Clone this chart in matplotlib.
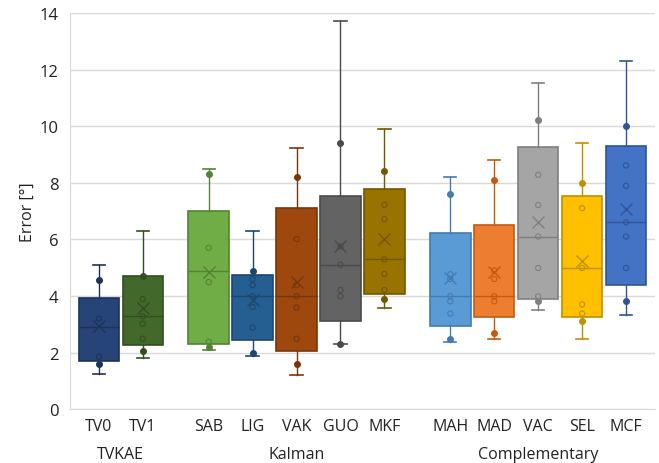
import matplotlib.pyplot as plt
import matplotlib.transforms as mtransforms

plt.rcParams['font.family'] = ['Open Sans', 'DejaVu Sans']

names = ['TV0', 'TV1', 'SAB', 'LIG', 'VAK', 'GUO', 'MKF', 'MAH', 'MAD', 'VAC', 'SEL', 'MCF']
groups = ['TVKAE', 'Kalman', 'Complementary']
group_members = [['TV0', 'TV1'], ['SAB', 'LIG', 'VAK', 'GUO', 'MKF'],
                 ['MAH', 'MAD', 'VAC', 'SEL', 'MCF']]

# box statistics
whis_lo = [1.24, 1.81, 2.10, 1.87, 1.20, 2.31, 3.59, 2.38, 2.49, 3.49, 2.49, 3.31]
q1 = [1.70, 2.26, 2.30, 2.44, 2.06, 3.12, 4.07, 2.95, 3.24, 3.89, 3.24, 4.38]
med = [2.92, 3.28, 4.88, 3.99, 3.99, 5.10, 5.29, 3.99, 3.99, 6.10, 4.99, 6.60]
q3 = [3.92, 4.70, 7.00, 4.74, 7.10, 7.54, 7.79, 6.21, 6.49, 9.25, 7.54, 9.29]
whis_hi = [5.10, 6.31, 8.50, 6.28, 9.23, 13.70, 9.91, 8.21, 8.79, 11.51, 9.40, 12.30]
means = [2.94, 3.59, 4.85, 3.87, 4.50, 5.75, 6.01, 4.62, 4.83, 6.60, 5.24, 7.07]

# individual points (hollow) and the highlighted min/max points (filled)
inner_pts = [
    [3.20, 1.85],
    [3.89, 3.28, 3.02, 2.49],
    [5.70, 4.49, 2.38],
    [4.60, 4.38, 3.99, 3.61, 2.88],
    [6.01, 4.38, 3.99, 3.59, 2.49],
    [5.75, 5.10, 4.21, 3.99],
    [7.22, 6.72, 5.29, 4.78, 4.21],
    [4.77, 4.60, 3.99, 3.81, 3.38],
    [4.90, 4.60, 3.99, 3.81],
    [8.28, 7.21, 6.10, 4.99, 3.99],
    [7.10, 4.99, 3.70, 3.38],
    [8.61, 7.89, 6.60, 6.10, 4.99],
]
filled_pts = [
    [4.56, 1.59], [4.71, 2.05], [8.30, 2.19], [4.88, 1.98], [8.22, 1.59], [9.40, 2.31],
    [8.40, 3.89], [7.61, 2.47], [8.11, 2.70], [10.23, 3.81], [8.00, 3.10], [10.01, 3.81],
]

colors = ['#264478', '#43682B', '#70AD47', '#255E91', '#9E480E', '#636363',
          '#997300', '#5B9BD5', '#ED7D31', '#A5A5A5', '#FFC000', '#4472C4']
edges = ['#1C3359', '#324E20', '#548235', '#1C476D', '#76360A', '#4A4A4A',
         '#735600', '#447BB0', '#C55A11', '#7F7F7F', '#BF9000', '#2F5597']

positions = [0, 1, 2.5, 3.5, 4.5, 5.5, 6.5, 8, 9, 10, 11, 12]
txt = '#222222'

fig = plt.figure(figsize=(6.59, 4.64), dpi=100)
ax = fig.add_axes([0.106, 0.116, 0.888, 0.854])

for i in range(len(names)):
    stats = [{'med': med[i], 'q1': q1[i], 'q3': q3[i], 'whislo': whis_lo[i],
              'whishi': whis_hi[i], 'mean': means[i], 'fliers': []}]
    ax.bxp(stats, positions=[positions[i]], widths=0.92, patch_artist=True,
           showmeans=True, manage_ticks=False,
           boxprops=dict(facecolor=colors[i], edgecolor=edges[i], linewidth=1.2),
           medianprops=dict(color=edges[i], linewidth=1),
           whiskerprops=dict(color=edges[i], linewidth=1),
           capprops=dict(color=edges[i], linewidth=1.2),
           meanprops=dict(marker='x', markeredgecolor=edges[i], markersize=8,
                          markeredgewidth=1),
           capwidths=0.28, zorder=2)
    ax.scatter([positions[i]] * len(inner_pts[i]), inner_pts[i], s=14,
               facecolors='none', edgecolors=edges[i], linewidths=0.8, zorder=3)
    ax.scatter([positions[i]] * len(filled_pts[i]), filled_pts[i], s=16,
               color=edges[i], zorder=3)

ax.set_ylim(0, 14)
ax.set_xlim(-0.66, 12.66)
ax.set_yticks(range(0, 15, 2))
ax.set_xticks(positions)
ax.set_xticklabels(names, fontsize=11.5)
ax.tick_params(axis='y', labelsize=12, length=0, pad=8, colors=txt)
ax.tick_params(axis='x', length=0, pad=6, colors=txt)
ax.grid(axis='y', color='#D9D9D9', linewidth=1)
ax.set_axisbelow(True)
for s in ['top', 'right']:
    ax.spines[s].set_visible(False)
ax.spines['left'].set_color('#D9D9D9')
ax.spines['bottom'].set_color('#D9D9D9')
ax.set_ylabel('Error [°]', fontsize=11.5, color=txt, labelpad=3)

trans = mtransforms.blended_transform_factory(ax.transData, ax.transAxes)
for g, members in zip(groups, group_members):
    xs = [positions[names.index(m)] for m in members]
    ax.text(sum(xs) / len(xs), -0.112, g, transform=trans, ha='center', va='center',
            fontsize=11.5, color=txt)

fig.savefig('out.png', dpi=100)
